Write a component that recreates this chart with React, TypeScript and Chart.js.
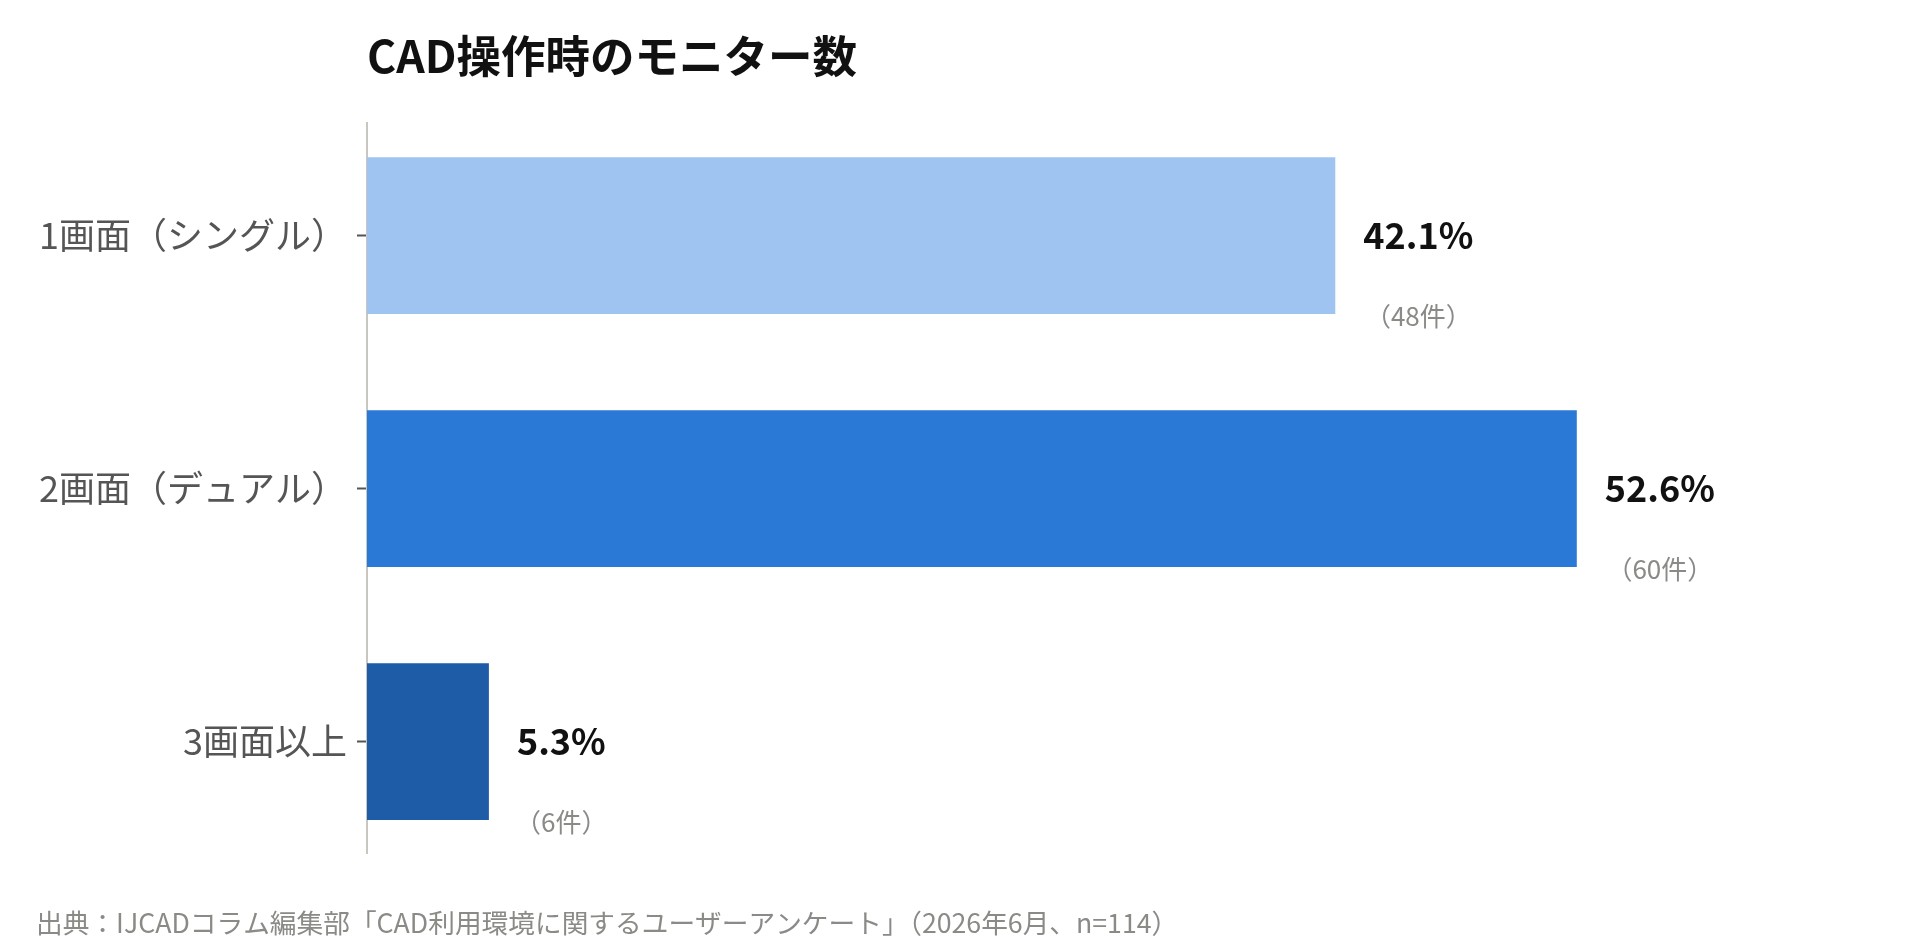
import { useEffect, useRef } from 'react';
import { Chart, registerables } from 'chart.js';

Chart.register(...registerables);

const FONT = '"Noto Sans CJK JP", "Noto Sans", sans-serif';

const TITLE = 'CAD操作時のモニター数';
const SOURCE = '出典：IJCADコラム編集部「CAD利用環境に関するユーザーアンケート」（2026年6月、n=114）';

const categories = ['1画面（シングル）', '2画面（デュアル）', '3画面以上'];
const percentages = [42.1, 52.6, 5.3];
const counts = [48, 60, 6];

const BAR_COLORS = ['#a0c4f2', '#2a79d6', '#1e5ca8'];

export default function App() {
  const canvasRef = useRef<HTMLCanvasElement | null>(null);

  useEffect(() => {
    const canvas = canvasRef.current;
    if (!canvas) return;

    const labelPlugin = {
      id: 'barLabels',
      afterDatasetsDraw(chart: any) {
        const ctx = chart.ctx as CanvasRenderingContext2D;
        const meta = chart.getDatasetMeta(0);
        ctx.save();
        meta.data.forEach((bar: any, i: number) => {
          const p = bar.getProps(['x', 'y', 'height'], true);
          const text = percentages[i].toFixed(1) + '%';
          ctx.font = `700 36px ${FONT}`;
          ctx.fillStyle = '#111111';
          ctx.textAlign = 'left';
          ctx.textBaseline = 'middle';
          const lx = p.x + 28;
          ctx.fillText(text, lx, p.y);
          const w = ctx.measureText(text).width;
          ctx.font = `400 26px ${FONT}`;
          ctx.fillStyle = '#8a8a86';
          ctx.textAlign = 'center';
          ctx.fillText(`（${counts[i]}件）`, lx + w / 2, p.y + p.height / 2 + 2);
        });
        ctx.restore();
      },
      afterDraw(chart: any) {
        const ctx = chart.ctx as CanvasRenderingContext2D;
        const area = chart.chartArea;
        ctx.save();
        ctx.font = `700 44.5px ${FONT}`;
        ctx.fillStyle = '#111111';
        ctx.textAlign = 'left';
        ctx.textBaseline = 'middle';
        ctx.fillText(TITLE, area.left, area.top - 67);
        ctx.font = `400 26.7px ${FONT}`;
        ctx.fillStyle = '#8a8a86';
        ctx.fillText(SOURCE, 36, area.bottom + 70);
        ctx.restore();
      },
    };

    const chart = new Chart(canvas, {
      type: 'bar',
      data: {
        labels: categories,
        datasets: [
          {
            data: percentages.map((v, i) => ({ x: v, y: i })) as any,
            backgroundColor: BAR_COLORS,
            borderWidth: 0,
            barPercentage: 0.62,
            categoryPercentage: 1,
          },
        ],
      },
      options: {
        indexAxis: 'y',
        animation: false,
        responsive: true,
        maintainAspectRatio: false,
        events: [],
        layout: { padding: { top: 123, bottom: 97, left: 0, right: 173 } },
        plugins: {
          legend: { display: false },
          tooltip: { enabled: false },
          title: { display: false },
        },
        scales: {
          x: {
            type: 'linear',
            min: 0,
            max: 60,
            display: false,
          },
          y: {
            type: 'linear',
            reverse: true,
            offset: false,
            min: -0.445,
            max: 2.44,
            afterBuildTicks: (scale: any) => {
              scale.ticks = categories.map((_, i) => ({ value: i }));
            },
            afterFit: (scale: any) => {
              scale.width = 367;
            },
            ticks: {
              autoSkip: false,
              padding: 10,
              color: '#555555',
              font: { family: FONT, size: 36, weight: 400 },
              callback: (v: any) => categories[v as number] ?? '',
            },
            grid: {
              offset: false,
              drawOnChartArea: false,
              drawTicks: true,
              tickLength: 10,
              tickWidth: 2,
              tickColor: '#555555',
            },
            border: { display: true, color: '#c8c7bf', width: 2 },
          },
        },
      },
      plugins: [labelPlugin],
    });

    return () => chart.destroy();
  }, []);

  return (
    <div style={{ position: 'absolute', left: 0, top: 0, width: 1920, height: 950, background: '#ffffff' }}>
      <canvas ref={canvasRef} />
    </div>
  );
}
